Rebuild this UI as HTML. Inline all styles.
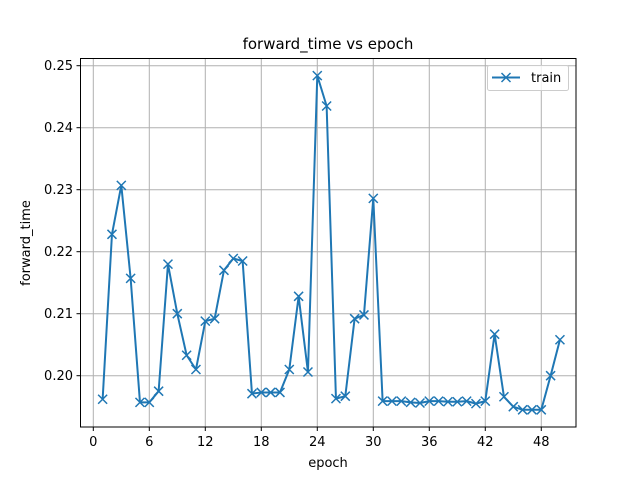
<!DOCTYPE html>
<html><head><meta charset="utf-8"><style>
body{margin:0;background:#fff;}
svg text{font-family:"DejaVu Sans","Liberation Sans",sans-serif;fill:#000;}
</style></head><body>
<svg id="chart" width="640" height="480" xmlns="http://www.w3.org/2000/svg">
<rect width="640" height="480" fill="#fff"/>
<g id="grid"></g>
<g id="ticks"></g>
<g id="series"></g>
<rect x="80.5" y="58.5" width="495.5" height="368.5" fill="none" stroke="#000" stroke-width="1"/>
<text x="328" y="49" font-size="15" text-anchor="middle">forward_time vs epoch</text>
<text x="328" y="467" font-size="13" text-anchor="middle">epoch</text>
<text x="30" y="243" font-size="13" text-anchor="middle" transform="rotate(-90 30 243)">forward_time</text>
<g>
<rect x="487.5" y="65.5" width="81" height="25" rx="2" fill="#fff" fill-opacity="0.8" stroke="#ccc"/>
<line x1="492" y1="77.5" x2="520" y2="77.5" stroke="#1f77b4" stroke-width="2"/>
<path d="M501.5 73 L510.5 82 M510.5 73 L501.5 82" stroke="#1f77b4" stroke-width="1.5"/>
<text x="531" y="82" font-size="13">train</text>
</g>
</svg>
<script>
const epochs=[1,2,3,4,5,6,7,8,9,10,11,12,13,14,15,16,17,18,19,20,21,22,23,24,25,26,27,28,29,30,31,32,33,34,35,36,37,38,39,40,41,42,43,44,45,46,47,48,49,50];
const trainValues=[0.1962,0.2228,0.2307,0.2157,0.1957,0.1957,0.1975,0.2180,0.2100,0.2033,0.2010,0.2088,0.2092,0.2170,0.2189,0.2185,0.1971,0.1973,0.1973,0.1973,0.2010,0.2128,0.2006,0.2484,0.2435,0.1963,0.1967,0.2092,0.2098,0.2286,0.1959,0.1959,0.1959,0.1957,0.1956,0.1959,0.1959,0.1958,0.1958,0.1959,0.1955,0.1959,0.2067,0.1966,0.1950,0.1945,0.1945,0.1945,0.2000,0.2058];
const xTicks=[0,6,12,18,24,30,36,42,48];
const yTicks=[0.20,0.21,0.22,0.23,0.24,0.25];
const NS="http://www.w3.org/2000/svg";
const xs=v=>93.3+v*9.333;
const ys=v=>375.7-(v-0.20)*6200;
function mk(t,a,p){const e=document.createElementNS(NS,t);for(const k in a)e.setAttribute(k,a[k]);p.appendChild(e);return e;}
const grid=document.getElementById('grid'),ticks=document.getElementById('ticks'),ser=document.getElementById('series');
xTicks.forEach(t=>{const x=xs(t);
const g=mk('line',{x1:x,x2:x,y1:58.5,y2:427,stroke:'#b0b0b0','stroke-width':1},grid);


mk('line',{x1:x,x2:x,y1:427,y2:431,stroke:'#000','stroke-width':1},ticks);
const tx=mk('text',{x:x,y:446,'font-size':13,'text-anchor':'middle'},ticks);tx.textContent=t;

});
yTicks.forEach(t=>{const y=ys(t);
const g=mk('line',{x1:80.5,x2:576,y1:y,y2:y,stroke:'#b0b0b0','stroke-width':1},grid);


mk('line',{x1:76.5,x2:80.5,y1:y,y2:y,stroke:'#000','stroke-width':1},ticks);
const tx=mk('text',{x:73,y:y+4.5,'font-size':13,'text-anchor':'end'},ticks);tx.textContent=t.toFixed(2);

});
const pts=epochs.map((e,i)=>xs(e)+','+ys(trainValues[i])).join(' ');
const pl=mk('polyline',{points:pts,fill:'none',stroke:'#1f77b4','stroke-width':2,'stroke-linejoin':'round'},ser);


epochs.forEach((e,i)=>{const x=xs(e),y=ys(trainValues[i]);
const m=mk('path',{d:`M${x-4.5} ${y-4.5}L${x+4.5} ${y+4.5}M${x+4.5} ${y-4.5}L${x-4.5} ${y+4.5}`,stroke:'#1f77b4','stroke-width':1.5},ser);

});
</script>
</body></html>
